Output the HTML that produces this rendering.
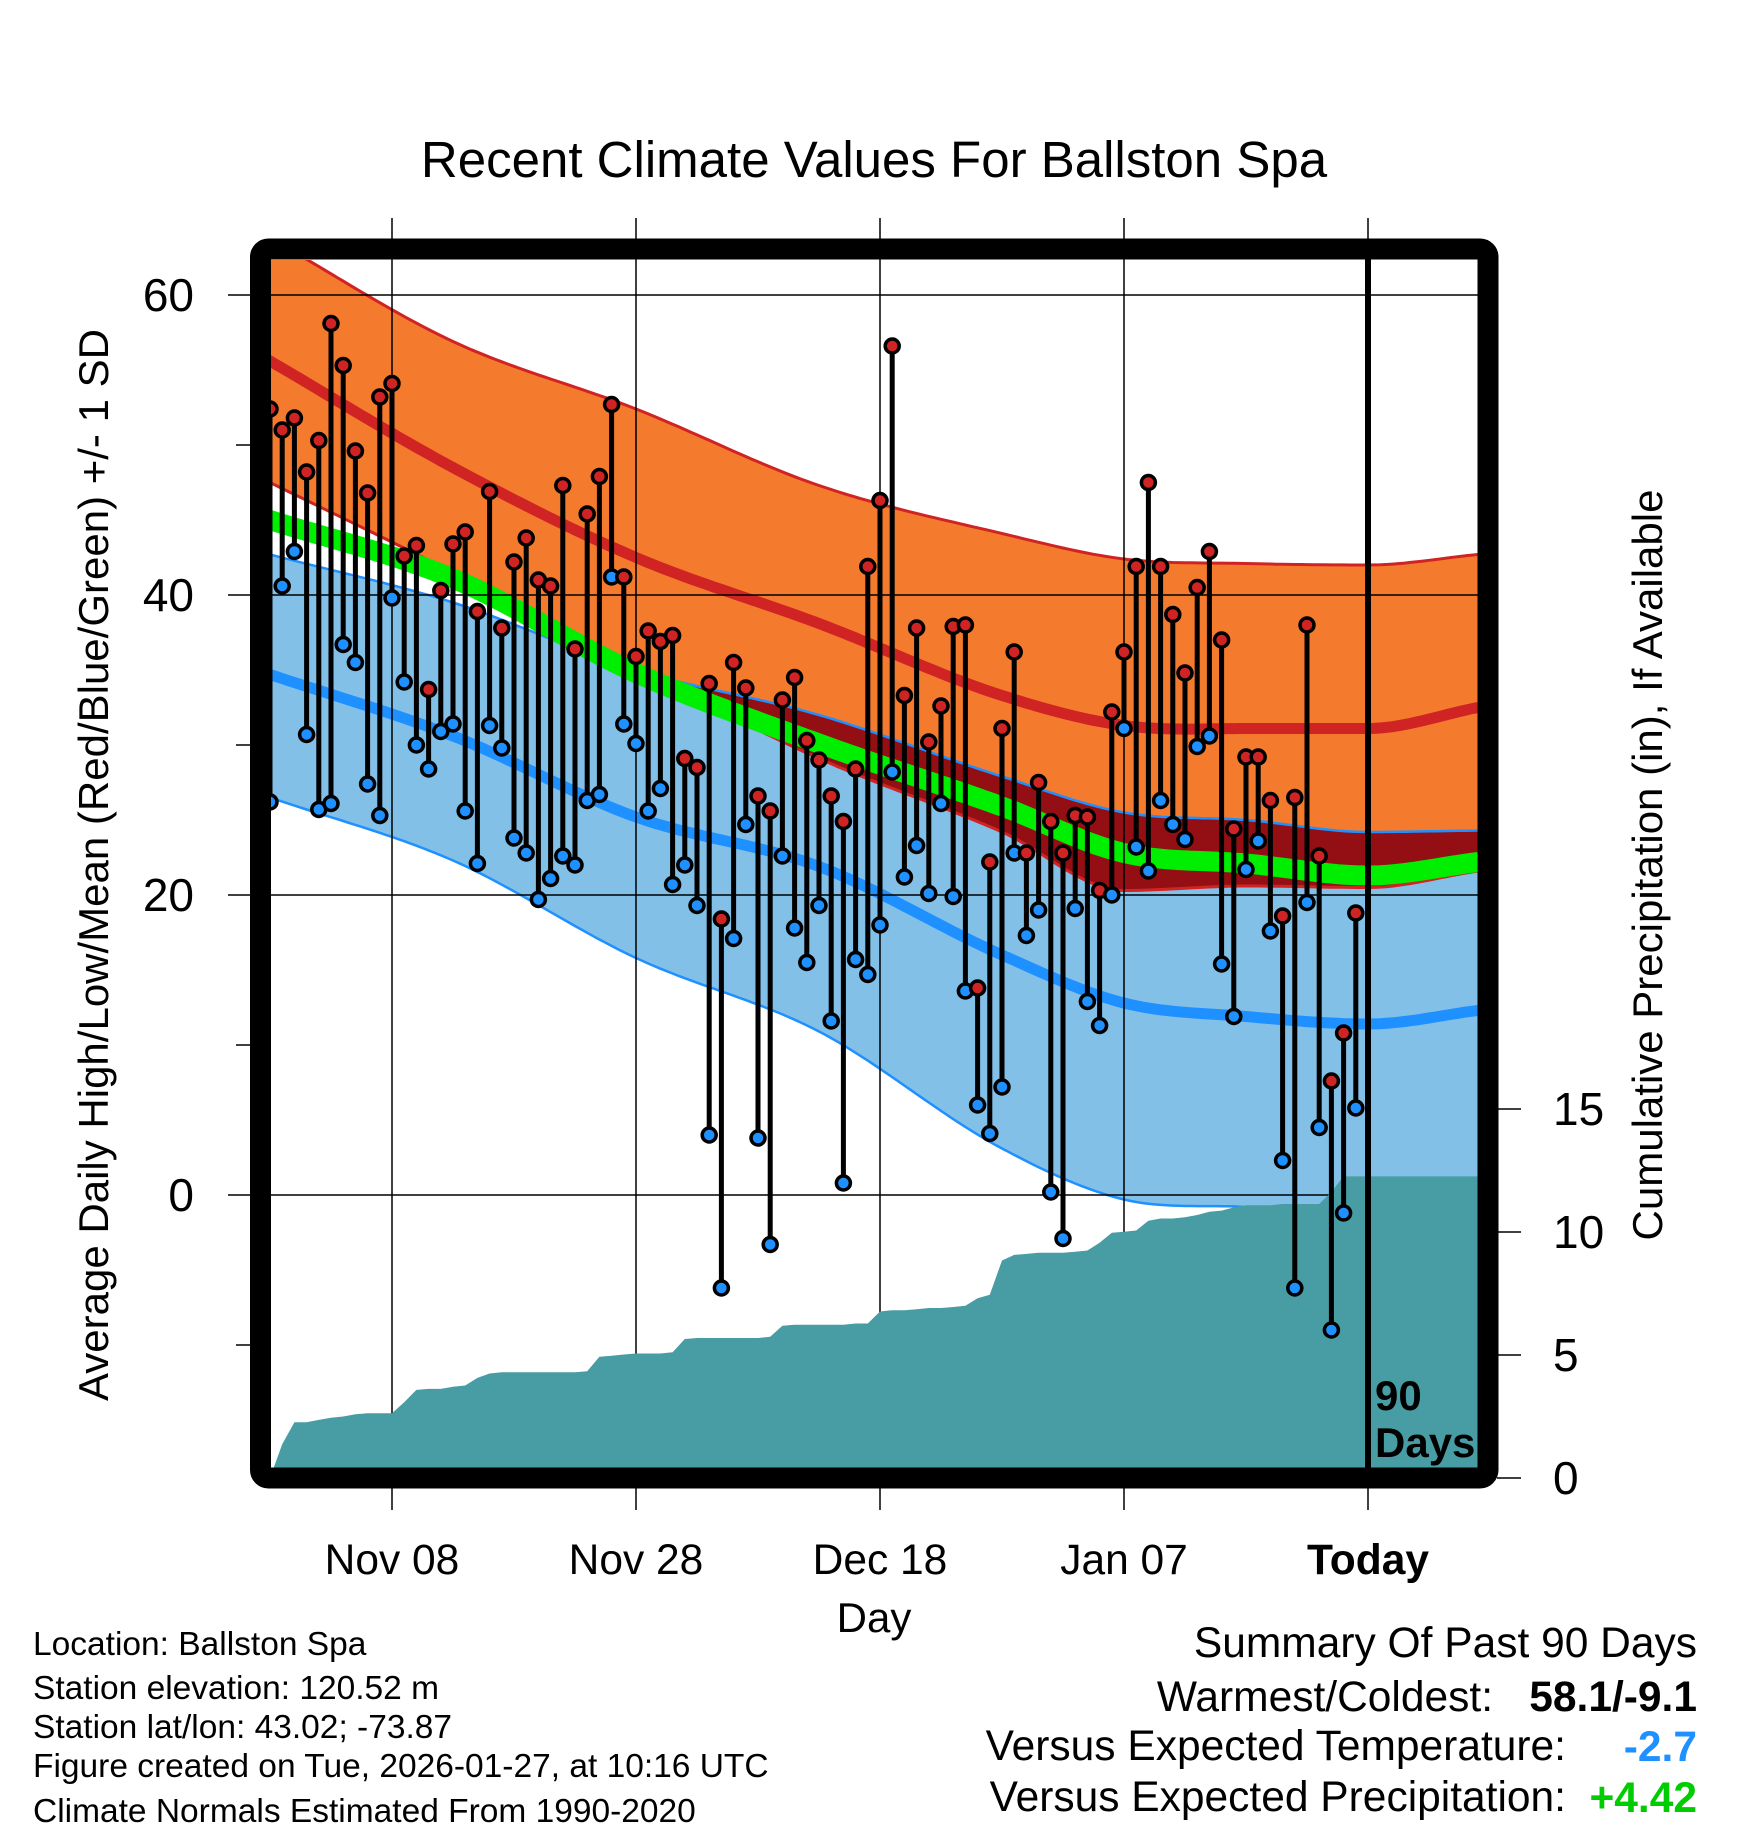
<!DOCTYPE html>
<html><head><meta charset="utf-8">
<style>
html,body{margin:0;padding:0;background:#fff;}
svg{display:block;}
text{font-family:"Liberation Sans",sans-serif;}
</style></head>
<body>
<svg id="chart" width="1748" height="1828" viewBox="0 0 1748 1828" xmlns="http://www.w3.org/2000/svg">
<defs>
<clipPath id="plotClip"><rect x="270" y="260" width="1208" height="1208"/></clipPath>
<clipPath id="orangeClip"><path id="orangeClipPath" d=""/></clipPath>
</defs>
<text x="874" y="177" font-size="51" text-anchor="middle">Recent Climate Values For Ballston Spa</text>
<g id="bands" clip-path="url(#plotClip)"></g>
<g id="grid"></g>
<g id="precip" clip-path="url(#plotClip)"></g>
<g id="marks" clip-path="url(#plotClip)"></g>
<line x1="1368" y1="218" x2="1368" y2="250" stroke="#000" stroke-width="1.5"/>
<line x1="1368" y1="250" x2="1368" y2="1470" stroke="#000" stroke-width="6"/>
<line x1="1368" y1="1470" x2="1368" y2="1510" stroke="#000" stroke-width="1.5"/>
<rect x="260.5" y="249" width="1227.5" height="1229" rx="8" fill="none" stroke="#000" stroke-width="21"/>
<g id="axes"></g>
<text x="1375" y="1410" font-size="42" font-weight="bold">90</text>
<text x="1375" y="1457" font-size="42" font-weight="bold">Days</text>
<text transform="translate(108,865) rotate(-90)" font-size="42" text-anchor="middle">Average Daily High/Low/Mean (Red/Blue/Green) +/- 1 SD</text>
<text transform="translate(1662,865) rotate(-90)" font-size="42" text-anchor="middle">Cumulative Precipitation (in), If Available</text>
<text x="874" y="1632" font-size="42" text-anchor="middle">Day</text>
<g font-size="33.5">
<text x="33" y="1655">Location: Ballston Spa</text>
<text x="33" y="1699">Station elevation: 120.52 m</text>
<text x="33" y="1738">Station lat/lon: 43.02; -73.87</text>
<text x="33" y="1777">Figure created on Tue, 2026-01-27, at 10:16 UTC</text>
<text x="33" y="1822">Climate Normals Estimated From 1990-2020</text>
</g>
<g font-size="42.5">
<text x="1697" y="1657" text-anchor="end">Summary Of Past 90 Days</text>
<text x="1493" y="1711" text-anchor="end">Warmest/Coldest:</text>
<text x="1697" y="1711" text-anchor="end" font-weight="bold">58.1/-9.1</text>
<text x="1566" y="1760" text-anchor="end">Versus Expected Temperature:</text>
<text x="1697" y="1761" text-anchor="end" font-weight="bold" fill="#1e90ff">-2.7</text>
<text x="1566" y="1811" text-anchor="end">Versus Expected Precipitation:</text>
<text x="1697" y="1812" text-anchor="end" font-weight="bold" fill="#00cc00">+4.42</text>
</g>
</svg>
<script>
// ---- data ----
const normDays   = [-90, -75, -60, -45, -30, -20, -10, 0, 9];
const normHigh   = [55.6, 48.5, 42.5, 38.1, 33.3, 31.3, 31.1, 31.1, 32.5];
const highSdUp   = [63.8, 56.9, 52.4, 47.3, 44.1, 42.4, 42.1, 42.0, 42.7];
const highSdLo   = [47.5, 41.5, 35.1, 29.1, 24.2, 20.3, 20.6, 20.5, 21.6];
const normMean   = [45.0, 41.1, 34.8, 30.1, 25.9, 22.8, 22.1, 21.3, 22.2];
const lowSdUp    = [42.7, 39.5, 35.0, 32.0, 27.9, 25.5, 25.0, 24.2, 24.3];
const normLow    = [34.7, 30.6, 25.2, 21.9, 16.0, 12.8, 11.9, 11.4, 12.3];
const lowSdLo    = [26.5, 22.3, 15.8, 10.9, 3.1, -0.3, -0.8, -1.3, -1.0];

const highs = [52.4,51.0,51.8,48.2,50.3,58.1,55.3,49.6,46.8,53.2,54.1,42.6,43.3,33.7,40.3,43.4,44.2,38.9,46.9,37.8,
42.2,43.8,41.0,40.6,47.3,36.4,45.4,47.9,52.7,41.2,35.9,37.6,36.9,37.3,29.1,28.5,34.1,18.4,35.5,33.8,
26.6,25.6,33.0,34.5,30.3,29.0,26.6,24.9,28.4,41.9,46.3,56.6,33.3,37.8,30.2,32.6,37.9,38.0,13.8,22.2,
31.1,36.2,22.8,27.5,24.9,22.8,25.3,25.2,20.3,32.2,36.2,41.9,47.5,41.9,38.7,34.8,40.5,42.9,37.0,24.4,
29.2,29.2,26.3,18.6,26.5,38.0,22.6,7.6,10.8,18.8];
const lows = [26.2,40.6,42.9,30.7,25.7,26.1,36.7,35.5,27.4,25.3,39.8,34.2,30.0,28.4,30.9,31.4,25.6,22.1,31.3,29.8,
23.8,22.8,19.7,21.1,22.6,22.0,26.3,26.7,41.2,31.4,30.1,25.6,27.1,20.7,22.0,19.3,4.0,-6.2,17.1,24.7,
3.8,-3.3,22.6,17.8,15.5,19.3,11.6,0.8,15.7,14.7,18.0,28.2,21.2,23.3,20.1,26.1,19.9,13.6,6.0,4.1,
7.2,22.8,17.3,19.0,0.2,-2.9,19.1,12.9,11.3,20.0,31.1,23.2,21.6,26.3,24.7,23.7,29.9,30.6,15.4,11.9,
21.7,23.6,17.6,2.3,-6.2,19.5,4.5,-9.0,-1.2,5.8];
const precipCum = [0,1.37,2.27,2.27,2.36,2.45,2.5,2.59,2.63,2.63,2.63,3.08,3.58,3.62,3.62,3.71,3.76,4.07,4.25,4.30,
4.30,4.30,4.30,4.30,4.30,4.30,4.34,4.93,4.97,5.02,5.06,5.06,5.06,5.11,5.65,5.69,5.69,5.69,5.69,5.69,
5.69,5.74,6.19,6.23,6.23,6.23,6.23,6.23,6.28,6.28,6.77,6.82,6.82,6.86,6.91,6.91,6.95,7.0,7.31,7.45,
8.84,9.07,9.11,9.16,9.16,9.16,9.2,9.25,9.56,9.97,10.01,10.06,10.46,10.55,10.55,10.6,10.69,10.82,10.87,11.0,
11.09,11.09,11.09,11.14,11.14,11.14,11.14,11.63,12.26,12.26];
const firstDay = -90;
const xTickDays = [-80, -60, -40, -20, 0];
const xTickLabels = ["Nov 08", "Nov 28", "Dec 18", "Jan 07", "Today"];
const yMajorTicks = [60, 40, 20, 0];
const yMinorTicks = [50, 30, 10, -10];
const precipTicks = [0, 5, 10, 15];

// ---- scales ----
const NS = "http://www.w3.org/2000/svg";
const xS = d => 1368 + 12.2 * d;
const yS = t => 1195 - 15 * t;
const yP = p => 1478 - 24.6 * p;
const dMin = -90, dMax = 9.2;

function interp(days, vals, d) {
  const n = days.length;
  if (d <= days[0]) { const s = (vals[1]-vals[0])/(days[1]-days[0]); return vals[0] + s*(d-days[0]); }
  if (d >= days[n-1]) { const s = (vals[n-1]-vals[n-2])/(days[n-1]-days[n-2]); return vals[n-1] + s*(d-days[n-1]); }
  const sl = [], m = [];
  for (let k = 0; k < n-1; k++) sl.push((vals[k+1]-vals[k])/(days[k+1]-days[k]));
  m[0] = sl[0]; m[n-1] = sl[n-2];
  for (let k = 1; k < n-1; k++) m[k] = (sl[k-1]*sl[k] <= 0) ? 0 : (sl[k-1]+sl[k])/2;
  let i = 0;
  while (d > days[i+1]) i++;
  const h = days[i+1]-days[i], t = (d-days[i])/h, t2 = t*t, t3 = t2*t;
  return (2*t3-3*t2+1)*vals[i] + (t3-2*t2+t)*h*m[i] + (-2*t3+3*t2)*vals[i+1] + (t3-t2)*h*m[i+1];
}
function curvePts(vals) {
  const pts = [];
  for (let d = dMin - 1; d <= dMax + 1; d += 0.5) pts.push([xS(d), yS(interp(normDays, vals, d))]);
  return pts;
}
const lineD = pts => "M" + pts.map(p => p[0].toFixed(1) + "," + p[1].toFixed(1)).join("L");
const bandD = (a, b) => lineD(a.concat(b.slice().reverse())) + "Z";
function mk(tag, attrs, parent) {
  const e = document.createElementNS(NS, tag);
  for (const k in attrs) e.setAttribute(k, attrs[k]);
  parent.appendChild(e);
  return e;
}

// ---- bands ----
const bands = document.getElementById("bands");
const pHU = curvePts(highSdUp), pHL = curvePts(highSdLo), pLU = curvePts(lowSdUp), pLL = curvePts(lowSdLo);
const orange = mk("path", {d: bandD(pHU, pHL), fill: "#f47a2e"}, bands);


const blueBand = mk("path", {d: bandD(pLU, pLL), fill: "#82c0e8"}, bands);


document.getElementById("orangeClipPath").setAttribute("d", bandD(pHU, pHL));
const overlap = mk("path", {d: bandD(pLU, pLL), fill: "#930f13", "clip-path": "url(#orangeClip)"}, bands);


const edges = [[pHU, "#d02424", 3], [pHL, "#d02424", 3], [pLU, "#1e90ff", 2.5], [pLL, "#1e90ff", 2.5]];
edges.forEach(e => {
  const l = mk("path", {d: lineD(e[0]), fill: "none", stroke: e[1], "stroke-width": e[2]}, bands);
  
  
});
const meanLine = mk("path", {d: lineD(curvePts(normMean)), fill: "none", stroke: "#00ee00", "stroke-width": 20}, bands);


const highLine = mk("path", {d: lineD(curvePts(normHigh)), fill: "none", stroke: "#d02424", "stroke-width": 11}, bands);


const lowLine = mk("path", {d: lineD(curvePts(normLow)), fill: "none", stroke: "#1e90ff", "stroke-width": 11}, bands);



// ---- grid ----
const grid = document.getElementById("grid");
yMajorTicks.forEach(t => {
  const l = mk("line", {x1: 228, x2: 1478, y1: yS(t), y2: yS(t), stroke: "#000", "stroke-width": 1.5}, grid);
  
  
});
xTickDays.forEach(d => {
  if (d === 0) return;
  const l = mk("line", {x1: xS(d), x2: xS(d), y1: 218, y2: 1510, stroke: "#000", "stroke-width": 1.5}, grid);
  
  
});

// ---- precip ----
const precip = document.getElementById("precip");
let pd = "M" + xS(firstDay) + "," + yP(0);
precipCum.forEach((v, i) => { pd += "L" + xS(firstDay + i).toFixed(1) + "," + yP(v).toFixed(1); });
pd += "L" + xS(dMax + 1) + "," + yP(precipCum[precipCum.length - 1]).toFixed(1) + "L" + xS(dMax + 1) + "," + yP(0) + "Z";
const pa = mk("path", {d: pd, fill: "#489ca3"}, precip);



// ---- daily marks ----
const marks = document.getElementById("marks");
highs.forEach((h, i) => {
  const x = xS(firstDay + i);
  const st = mk("line", {x1: x, x2: x, y1: yS(h), y2: yS(lows[i]), stroke: "#000", "stroke-width": 5}, marks);
  
  
});
highs.forEach((h, i) => {
  const x = xS(firstDay + i);
  const hi = mk("circle", {cx: x, cy: yS(h), r: 7, fill: "#d02424", stroke: "#000", "stroke-width": 3.5}, marks);
  
  
  const lo = mk("circle", {cx: x, cy: yS(lows[i]), r: 7, fill: "#1e90ff", stroke: "#000", "stroke-width": 3.5}, marks);
  
  
});

// ---- axes ----
const axes = document.getElementById("axes");
yMajorTicks.forEach(t => {
  const tx = mk("text", {x: 194, y: yS(t) + 16, "font-size": 46, "text-anchor": "end"}, axes);
  tx.textContent = String(t);
  
  
});
yMinorTicks.forEach(t => {
  const l = mk("line", {x1: 236, x2: 252, y1: yS(t), y2: yS(t), stroke: "#000", "stroke-width": 1.5}, axes);
  
  
});
precipTicks.forEach(p => {
  const l = mk("line", {x1: 1497, x2: 1521, y1: yP(p), y2: yP(p), stroke: "#000", "stroke-width": 1.5}, axes);
  
  
  const tx = mk("text", {x: 1553, y: yP(p) + 16, "font-size": 46}, axes);
  tx.textContent = String(p);
  
  
});
xTickDays.forEach((d, i) => {
  const tx = mk("text", {x: xS(d), y: 1574, "font-size": 42.5, "text-anchor": "middle"}, axes);
  if (d === 0) tx.setAttribute("font-weight", "bold");
  tx.textContent = xTickLabels[i];
  
  
});
</script>
</body></html>
